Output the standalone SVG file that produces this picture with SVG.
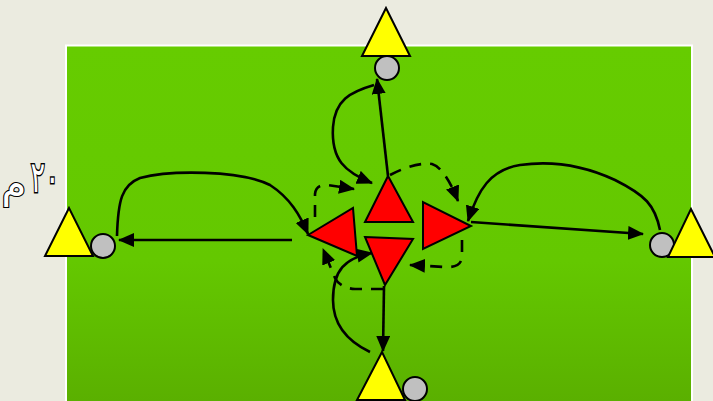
<svg xmlns="http://www.w3.org/2000/svg" width="713" height="401" viewBox="0 0 713 401">
<defs>
<linearGradient id="grass" x1="0" y1="0" x2="0" y2="1">
<stop offset="0" stop-color="#66cc00"/>
<stop offset="0.6" stop-color="#64c800"/>
<stop offset="1" stop-color="#5aaf00"/>
</linearGradient>
<marker id="ah" viewBox="0 0 16 14" refX="15" refY="7" markerWidth="16" markerHeight="14" markerUnits="userSpaceOnUse" orient="auto">
<path d="M0,0 L16,7 L0,14 Z" fill="#000"/>
</marker>
</defs>
<style>
.cone{fill:#ffff00;stroke:#000;stroke-width:2}
.red{fill:#ff0000;stroke:#000;stroke-width:2}
.ball{fill:#c0c0c0;stroke:#000;stroke-width:2}
.run{fill:none;stroke:#000;stroke-width:2.6;marker-end:url(#ah)}
.dash{fill:none;stroke:#000;stroke-width:2.6;stroke-dasharray:12 9;marker-end:url(#ah)}
.lbl{font-family:"DejaVu Sans",sans-serif;fill:#fff;stroke:#000;stroke-width:2.2;paint-order:stroke;text-anchor:middle}
</style>
<rect x="0" y="0" width="713" height="401" fill="#ebebe0"/>
<rect id="field" x="66" y="45.5" width="626" height="360" fill="url(#grass)" stroke="#fff" stroke-width="2"/>
<g id="label">
<text class="lbl" font-size="32" transform="translate(45,192) scale(0.85,1.35)" letter-spacing="3">٢٠</text>
<text class="lbl" x="14" y="197" font-size="40">م</text>
</g>
<g id="connectors">
<path class="run" d="M292,240 L119,240"/>
<path class="run" d="M117,236 C118,200 122,185 140,178 C170,170 240,170 270,185 C290,198 300,215 308,234"/>
<path class="run" d="M471,222 L643,234"/>
<path class="run" d="M660,230 C655,205 645,195 615,180 C585,166 555,160 520,165 C490,170 478,190 468,221"/>
<path class="run" d="M388,176 L377,79"/>
<path class="run" d="M374,85 C350,92 335,100 333,127 C331,160 345,172 372,183"/>
<path class="run" d="M384,286 L383,351"/>
<path class="run" d="M370,352 C345,340 333,322 333,300 C333,270 345,258 372,253"/>
<path class="dash" d="M315,217 V194 Q316,184 328,185 L354,189"/>
<path class="dash" d="M390,175 Q415,162 432,164 Q445,168 458,201"/>
<path class="dash" d="M462,240 V257 Q461,268 445,267 L410,265"/>
<path class="dash" d="M383,289 L355,289 Q340,288 335,278 L323,249"/>
</g>
<g id="red-top"><polygon class="red" points="388,176 365,222 413,222"/></g>
<g id="red-left"><polygon class="red" points="308,235 353,208 357,256"/></g>
<g id="red-right"><polygon class="red" points="423,202 423,249 471,226"/></g>
<g id="red-bottom"><polygon class="red" points="365,237 413,239 385,285"/></g>
<g id="cone-top"><polygon class="cone" points="386,8 362,56 410,56"/><circle class="ball" cx="387" cy="68" r="12"/></g>
<g id="cone-left"><polygon class="cone" points="69,208 45,256 93,256"/><circle class="ball" cx="103" cy="246" r="12"/></g>
<g id="cone-right"><circle class="ball" cx="662" cy="245" r="12"/><polygon class="cone" points="691,209 668,257 715,257"/></g>
<g id="cone-bottom"><polygon class="cone" points="382,352 357,400 405,400"/><circle class="ball" cx="415" cy="389" r="12"/></g>
</svg>
